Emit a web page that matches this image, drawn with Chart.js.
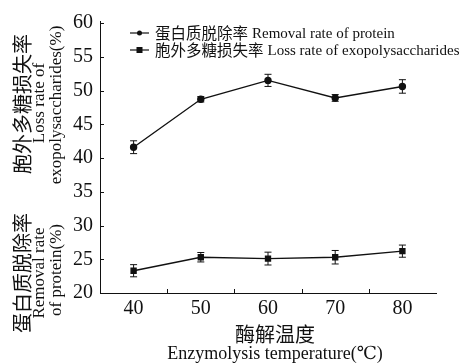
<!DOCTYPE html>
<html>
<head>
<meta charset="utf-8">
<script src="https://cdn.jsdelivr.net/npm/chart.js@4.4.1/dist/chart.umd.min.js"></script>
<style>
  html, body { margin: 0; padding: 0; background: #fff; }
  #wrap { width: 464px; height: 364px; }
</style>
</head>
<body>
<div id="wrap"><canvas id="chart" width="464" height="364"></canvas></div>
<script>
// ===== dados =====
const temps = [40, 50, 60, 70, 80];
const xTicks = [40, 50, 60, 70, 80];
const xMinorTicks = [45, 55, 65, 75];
const proteinRemoval = [41.6, 48.7, 51.5, 48.9, 50.6];
const proteinErr = [0.95, 0.4, 0.9, 0.5, 1.0];
const epsLoss = [23.3, 25.3, 25.1, 25.3, 26.2];
const epsErr = [0.9, 0.7, 0.95, 1.0, 0.9];
const legendLabels = [
  ["蛋白质脱除率", "Removal rate of protein"],
  ["胞外多糖损失率", "Loss rate of exopolysaccharides"],
];

const SERIF = "'Liberation Serif', 'DejaVu Serif', serif";
const CJK = "'Noto Sans CJK SC', sans-serif";

// ===== plugin: ticks internos, barras de erro, legenda, títulos =====
const extras = {
  id: "extras",
  afterDraw(chart) {
    const ctx = chart.ctx;
    const xs = chart.scales.x;
    const ys = chart.scales.y;
    const area = chart.chartArea;
    ctx.save();
    ctx.strokeStyle = "#111";
    ctx.lineWidth = 1;

    // eixo y sobe um pouco acima do 60
    ctx.beginPath();
    ctx.moveTo(area.left + 0.5, area.top);
    ctx.lineTo(area.left + 0.5, area.top - 2);
    ctx.stroke();

    // ticks do eixo y (para dentro)
    ys.ticks.forEach((t) => {
      const py = Math.round(ys.getPixelForValue(t.value)) + 0.5;
      ctx.beginPath();
      ctx.moveTo(area.left, py);
      ctx.lineTo(area.left + 4, py);
      ctx.stroke();
    });
    // ticks do eixo x (entre rótulos)
    xMinorTicks.forEach((v) => {
      const px = Math.round(xs.getPixelForValue(v)) + 0.5;
      ctx.beginPath();
      ctx.moveTo(px, area.bottom);
      ctx.lineTo(px, area.bottom - 4);
      ctx.stroke();
    });

    // barras de erro
    const drawErr = (vals, errs) => {
      vals.forEach((v, i) => {
        const px = xs.getPixelForValue(temps[i]);
        const top = ys.getPixelForValue(v + errs[i]);
        const bot = ys.getPixelForValue(v - errs[i]);
        ctx.beginPath();
        ctx.moveTo(px, top);
        ctx.lineTo(px, bot);
        ctx.moveTo(px - 3.5, top);
        ctx.lineTo(px + 3.5, top);
        ctx.moveTo(px - 3.5, bot);
        ctx.lineTo(px + 3.5, bot);
        ctx.stroke();
      });
    };
    drawErr(proteinRemoval, proteinErr);
    drawErr(epsLoss, epsErr);

    // legenda
    const rows = [33, 50];
    rows.forEach((ry, i) => {
      ctx.lineWidth = 1.2;
      ctx.beginPath();
      ctx.moveTo(130, ry);
      ctx.lineTo(149, ry);
      ctx.stroke();
      ctx.fillStyle = "#111";
      if (i === 0) {
        ctx.beginPath();
        ctx.arc(139.5, ry, 2.5, 0, Math.PI * 2);
        ctx.fill();
      } else {
        ctx.fillRect(136.5, ry - 3, 6, 6);
      }
      ctx.textBaseline = "middle";
      ctx.textAlign = "left";
      ctx.font = "15.5px " + CJK;
      ctx.fillText(legendLabels[i][0], 155, ry);
      const w = ctx.measureText(legendLabels[i][0]).width;
      ctx.font = "15px " + SERIF;
      ctx.fillText(legendLabels[i][1], 155 + w + 4, ry + 1);
    });

    // título eixo x
    ctx.textAlign = "center";
    ctx.font = "20px " + CJK;
    ctx.fillText("酶解温度", 275, 334);
    ctx.font = "18px " + SERIF;
    ctx.fillText("Enzymolysis temperature(℃)", 275, 354, 236);

    // títulos eixo y (girados)
    const vText = (txt, font, x, y, maxW) => {
      ctx.save();
      ctx.translate(x, y);
      ctx.rotate(-Math.PI / 2);
      ctx.font = font;
      ctx.textAlign = "center";
      ctx.textBaseline = "middle";
      ctx.fillText(txt, 0, 0, maxW);
      ctx.restore();
    };
    vText("胞外多糖损失率", "20px " + CJK, 22, 104, 158);
    vText("Loss rate of", "17px " + SERIF, 40, 103, 88);
    vText("exopolysaccharides(%)", "17px " + SERIF, 57, 105, 190);
    vText("蛋白质脱除率", "20px " + CJK, 22, 273, 120);
    vText("Removal rate", "17px " + SERIF, 40, 273, 94);
    vText("of protein(%)", "17px " + SERIF, 57, 270, 100);

    ctx.restore();
  },
};

new Chart(document.getElementById("chart").getContext("2d"), {
  type: "line",
  data: {
    datasets: [
      {
        label: legendLabels[0].join(" "),
        data: temps.map((t, i) => ({ x: t, y: proteinRemoval[i] })),
        borderColor: "#111",
        backgroundColor: "#111",
        borderWidth: 1.4,
        pointStyle: "circle",
        pointRadius: 3,
        tension: 0,
      },
      {
        label: legendLabels[1].join(" "),
        data: temps.map((t, i) => ({ x: t, y: epsLoss[i] })),
        borderColor: "#111",
        backgroundColor: "#111",
        borderWidth: 1.4,
        pointStyle: "rect",
        pointRadius: 3.5,
        tension: 0,
      },
    ],
  },
  options: {
    responsive: false,
    animation: false,
    devicePixelRatio: 1,
    layout: { padding: { top: 23, right: 28, left: 0, bottom: 0 } },
    plugins: { legend: { display: false }, tooltip: { enabled: false } },
    scales: {
      x: {
        type: "linear",
        min: 35,
        max: 85,
        afterBuildTicks: (s) => { s.ticks = xTicks.map((v) => ({ value: v })); },
        afterFit: (s) => { s.height = 71; },
        grid: { display: false, drawTicks: false },
        border: { display: true, color: "#111", width: 1 },
        ticks: { color: "#111", padding: 4, font: { family: SERIF, size: 20 }, maxRotation: 0 },
      },
      y: {
        min: 20,
        max: 60,
        afterFit: (s) => { s.width = 100; },
        grid: { display: false, drawTicks: false },
        border: { display: true, color: "#111", width: 1 },
        ticks: { stepSize: 5, color: "#111", padding: 7, font: { family: SERIF, size: 20 } },
      },
    },
  },
  plugins: [extras],
});
</script>
</body>
</html>
